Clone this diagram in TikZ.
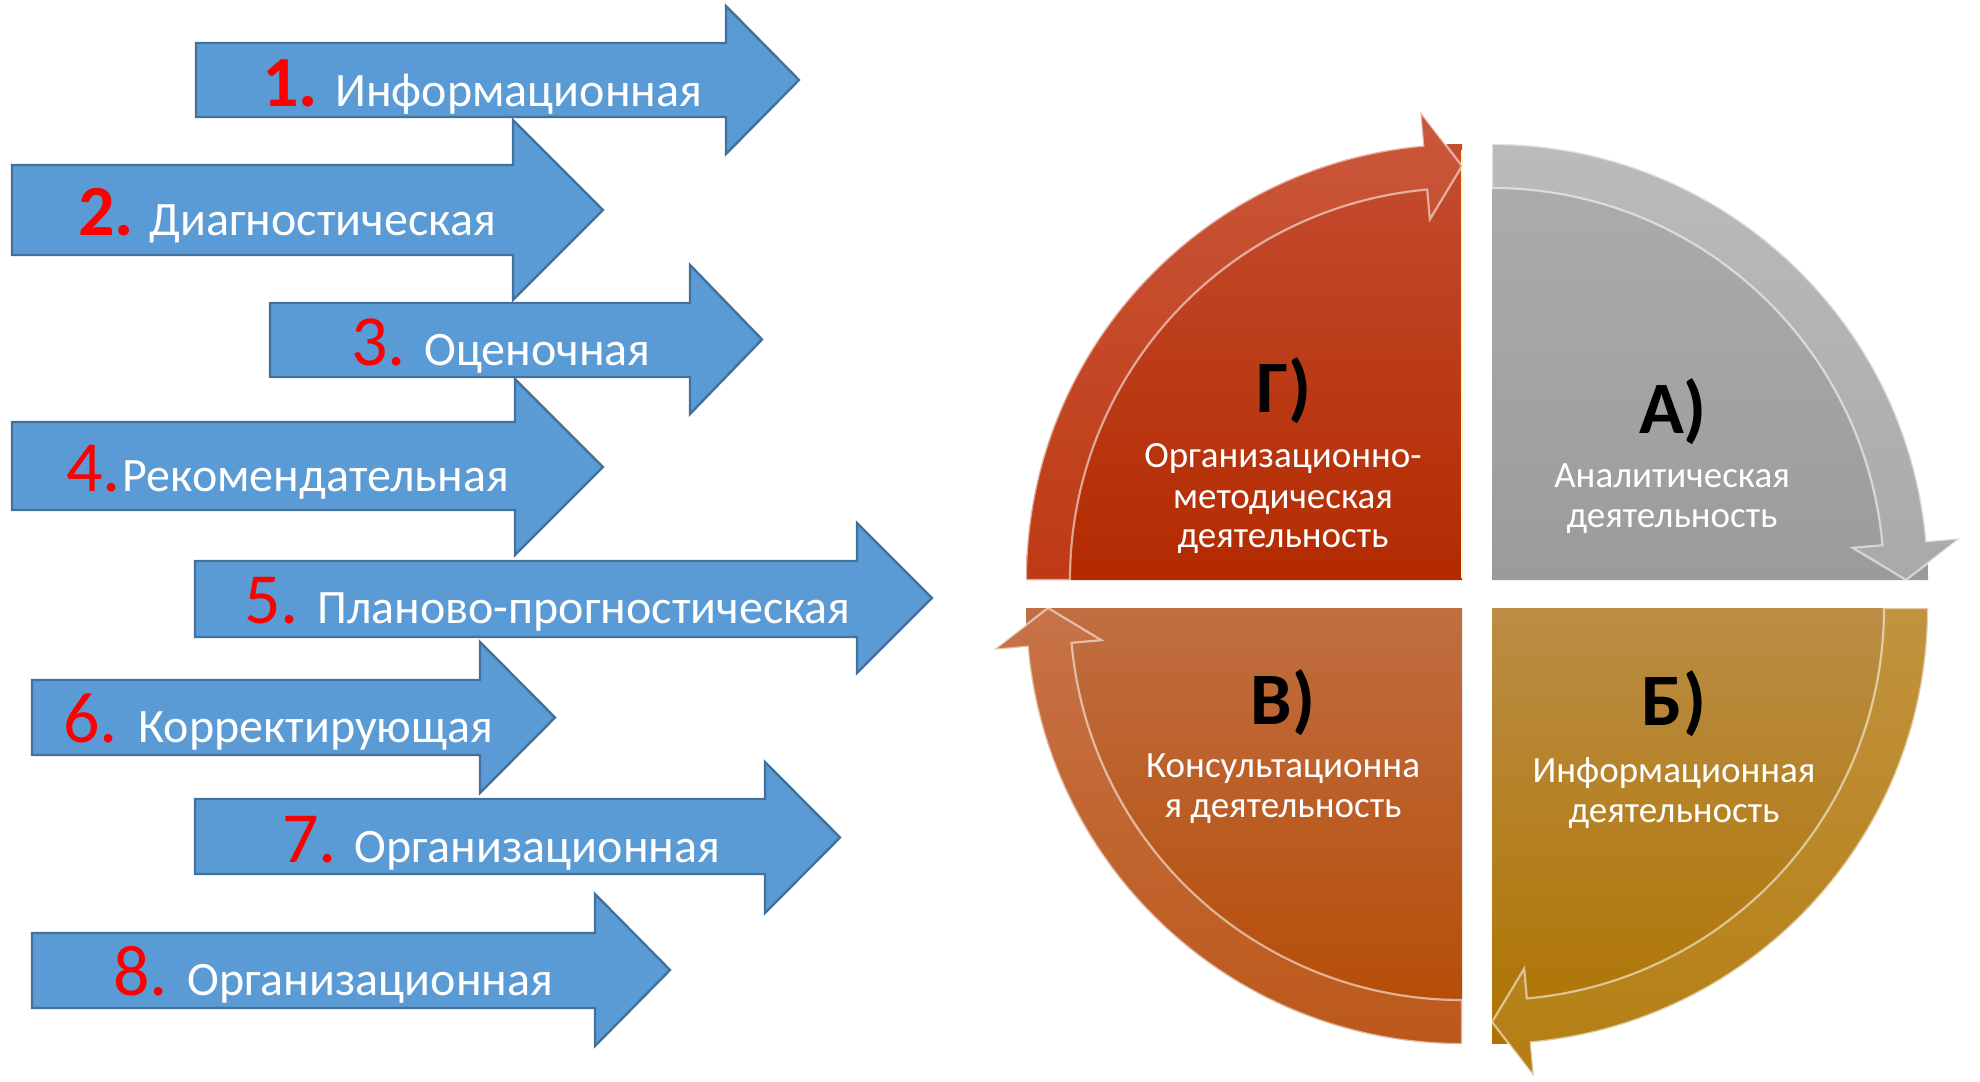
\documentclass[tikz,border=0pt]{standalone}
\usepackage{fontspec}
\setmainfont{Carlito}
\definecolor{arrowblue}{HTML}{5B9BD5}
\definecolor{arrowedge}{HTML}{41719C}
\definecolor{gTop}{HTML}{C44D30}\definecolor{gBot}{HTML}{B32A00}
\definecolor{gbTop}{HTML}{CA573B}\definecolor{gbBot}{HTML}{BE3A14}
\definecolor{aTop}{HTML}{ADADAD}\definecolor{aBot}{HTML}{9B9B9B}
\definecolor{abTop}{HTML}{BBBBBB}\definecolor{abBot}{HTML}{A9A9A9}
\definecolor{bTop}{HTML}{BB8D45}\definecolor{bBot}{HTML}{AE7400}
\definecolor{bbTop}{HTML}{C2933F}\definecolor{bbBot}{HTML}{B47E12}
\definecolor{vTop}{HTML}{C06E42}\definecolor{vBot}{HTML}{B54A02}
\definecolor{vbTop}{HTML}{C77348}\definecolor{vbBot}{HTML}{BC581A}
\newcommand\bluearrow[7]{%
  \draw[blk] (#1,#2) -- (#4,#2) -- (#4,#5) -- (#7,{(#5+#6)/2}) -- (#4,#6) -- (#4,#3) -- (#1,#3) -- cycle;}
\begin{document}
\begin{tikzpicture}[x=0.5pt,y=-0.5pt,
  blk/.style={fill=arrowblue, draw=arrowedge, line width=1.2pt, line join=miter},
  num/.style={text=red, font=\fontsize{36}{40}\selectfont, anchor=base west, inner sep=0pt},
  numb/.style={text=red, font=\bfseries\fontsize{36}{40}\selectfont, anchor=base west, inner sep=0pt},
  lbl/.style={text=white, font=\fontsize{24}{28}\selectfont, anchor=base west, inner sep=0pt},
  quadl/.style={text=black, font=\bfseries\fontsize{37}{40}\selectfont, anchor=base, inner sep=0pt},
  qtxt/.style={text=white, font=\fontsize{18.5}{20}\selectfont, anchor=base, inner sep=0pt},
  bandedge/.style={draw=white, draw opacity=0.55, line width=1.1pt, line join=miter}
]
\useasboundingbox (0,0) rectangle (1980,1081);
\fill[white] (0,0) rectangle (1980,1081);

% ---------- blue arrows ----------
\bluearrow{196}{43}{117}{726}{6}{154}{799}
\bluearrow{12}{165}{255}{513}{120}{300}{603}
\bluearrow{270}{303}{377}{690}{265}{414}{762}
\bluearrow{12}{422}{510}{515}{379}{555}{603}
\bluearrow{195}{561}{637}{857}{523}{673}{932}
\bluearrow{32}{680}{755}{480}{642}{793}{555}
\bluearrow{195}{799}{874}{765}{762}{913}{840}
\bluearrow{32}{933}{1008}{595}{894}{1046}{670}

\node[numb] (n1) at (262,106) {1.};
\node[lbl]  (t1) at (335,106) {Информационная};
\node[numb] (n2) at (78,235) {2.};
\node[lbl]  (t2) at (149,235) {Диагностическая};
\node[num]  (n3) at (351,365) {3.};
\node[lbl]  (t3) at (424,365) {Оценочная};
\node[num]  (n4) at (66,491) {4.};
\node[lbl]  (t4) at (122,491) {Рекомендательная};
\node[num]  (n5) at (244,623) {5.};
\node[lbl]  (t5) at (317,623) {Планово-прогностическая};
\node[num]  (n6) at (63,742) {6.};
\node[lbl]  (t6) at (138,742) {Корректирующая};
\node[num]  (n7) at (282,862) {7.};
\node[lbl]  (t7) at (354,862) {Организационная};
\node[num]  (n8) at (113,995) {8.};
\node[lbl]  (t8) at (187,995) {Организационная};

% ---------- quadrant Г (top-left) ----------
\begin{scope}[shift={(1462,580)}]
  \shade[top color=gTop, bottom color=gBot] (0,0) -- (-180:436) arc[start angle=-180,end angle=-90,radius=436] -- cycle;
  \draw[line width=1.4pt, color=white!75!yellow] (0,-2) -- (0,-430);
  \shade[top color=gbTop, bottom color=gbBot, bandedge]
    (-180:436) arc[start angle=-180,end angle=-95.1,radius=436] -- (-95.1:470) -- (-90:414)
    -- (-95.1:362) -- (-95.1:392) arc[start angle=-95.1,end angle=-180,radius=392] -- cycle;
\end{scope}
% ---------- quadrant А (top-right) ----------
\begin{scope}[shift={(1492,580)}]
  \shade[top color=aTop, bottom color=aBot] (0,0) -- (-90:436) arc[start angle=-90,end angle=0,radius=436] -- cycle;
  \shade[top color=abTop, bottom color=abBot, bandedge]
    (-90:436) arc[start angle=-90,end angle=-5.1,radius=436] -- (-5.1:470) -- (0:414)
    -- (-5.1:362) -- (-5.1:392) arc[start angle=-5.1,end angle=-90,radius=392] -- cycle;
\end{scope}
% ---------- quadrant Б (bottom-right) ----------
\begin{scope}[shift={(1492,608)}]
  \shade[top color=bTop, bottom color=bBot] (0,0) -- (0:436) arc[start angle=0,end angle=90,radius=436] -- cycle;
  \shade[top color=bbTop, bottom color=bbBot, bandedge]
    (0:436) arc[start angle=0,end angle=84.9,radius=436] -- (84.9:470) -- (90:414)
    -- (84.9:362) -- (84.9:392) arc[start angle=84.9,end angle=0,radius=392] -- cycle;
\end{scope}
% ---------- quadrant В (bottom-left) ----------
\begin{scope}[shift={(1462,608)}]
  \shade[top color=vTop, bottom color=vBot] (0,0) -- (90:436) arc[start angle=90,end angle=180,radius=436] -- cycle;
  \shade[top color=vbTop, bottom color=vbBot, bandedge]
    (90:436) arc[start angle=90,end angle=174.9,radius=436] -- (174.9:470) -- (180:414)
    -- (174.9:362) -- (174.9:392) arc[start angle=174.9,end angle=90,radius=392] -- cycle;
\end{scope}

% ---------- quadrant texts ----------
\node[quadl] (qg) at (1284,412) {Г)};
\node[qtxt] (g1) at (1283,467) {Организационно-};
\node[qtxt] (g2) at (1283,508) {методическая};
\node[qtxt] (g3) at (1283,547) {деятельность};

\node[quadl] (qa) at (1673,433) {А)};
\node[qtxt] (a1) at (1672,487) {Аналитическая};
\node[qtxt] (a2) at (1672,527) {деятельность};

\node[quadl] (qv) at (1283,724) {В)};
\node[qtxt] (v1) at (1283,777) {Консультационна};
\node[qtxt] (v2) at (1283,817) {я деятельность};

\node[quadl] (qb) at (1674,725) {Б)};
\node[qtxt] (b1) at (1674,782) {Информационная};
\node[qtxt] (b2) at (1674,822) {деятельность};
\end{tikzpicture}
\end{document}
